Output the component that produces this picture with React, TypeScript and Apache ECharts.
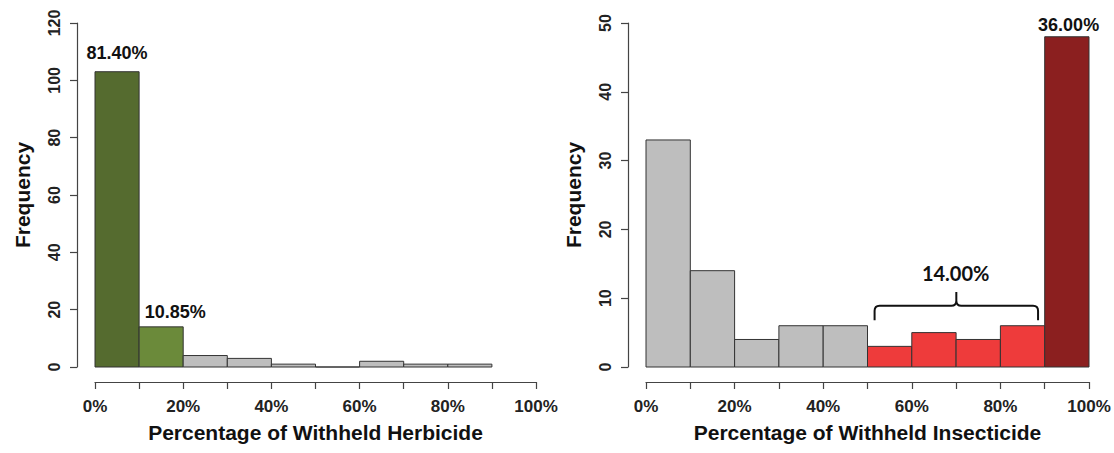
import React, { useEffect, useRef } from "react";
import * as echarts from "echarts";

// ---- Data ----
const binWidth = 10;
const leftBinStarts = [0, 10, 20, 30, 40, 50, 60, 70, 80];
const leftCounts = [103, 14, 4, 3, 1, 0, 2, 1, 1];
const leftColors = ["#556B2F", "#6B8A3A", "#BEBEBE", "#BEBEBE", "#BEBEBE", "#BEBEBE", "#BEBEBE", "#BEBEBE", "#BEBEBE"];

const rightBinStarts = [0, 10, 20, 30, 40, 50, 60, 70, 80, 90];
const rightCounts = [33, 14, 4, 6, 6, 3, 5, 4, 6, 48];
const rightColors = ["#BEBEBE", "#BEBEBE", "#BEBEBE", "#BEBEBE", "#BEBEBE", "#EE3B3B", "#EE3B3B", "#EE3B3B", "#EE3B3B", "#8B1F1F"];

const leftLabels: [number, number, string][] = [
  [5, 109.5, "81.40%"],
  [18.2, 19.2, "10.85%"],
];
const rightLabels: [number, number, string][] = [
  [95.4, 49.7, "36.00%"],
];
const braceLabel: [number, number, string][] = [[69.9, 13.7, "14.00%"]];
// brace: [x start, x end, y of bar line, y of ends, y of tip]
const braceData = [[51.6, 88.5, 8.9, 6.8, 10.9]];

const xTicks = [0, 20, 40, 60, 80, 100];

const FONT = "'Liberation Sans', Arial, sans-serif";

function histData(starts: number[], counts: number[]) {
  return starts.map((s, i) => [s, s + binWidth, counts[i]]);
}

function barSeries(idx: number, starts: number[], counts: number[], colors: string[]) {
  return {
    type: "custom",
    xAxisIndex: idx,
    yAxisIndex: idx,
    data: histData(starts, counts),
    encode: { x: [0, 1], y: 2 },
    renderItem: (params: any, api: any) => {
      const x0 = api.value(0);
      const x1 = api.value(1);
      const c = api.value(2);
      const p0 = api.coord([x0, 0]);
      const p1 = api.coord([x1, c]);
      return {
        type: "rect",
        shape: { x: p0[0], y: p1[1], width: p1[0] - p0[0], height: Math.max(p0[1] - p1[1], 0.01) },
        style: { fill: colors[params.dataIndex], stroke: "#333333", lineWidth: 1 },
      };
    },
    silent: true,
  };
}

function textSeries(idx: number, data: [number, number, string][], family: string, size: number) {
  return {
    type: "custom",
    xAxisIndex: idx,
    yAxisIndex: idx,
    data: data.map((d) => [d[0], d[1], d[2]]),
    renderItem: (params: any, api: any) => {
      const p = api.coord([api.value(0), api.value(1)]);
      return {
        type: "text",
        x: p[0],
        y: p[1],
        style: {
          text: data[params.dataIndex][2],
          fill: "#111111",
          font: `bold ${size}px ${family}`,
          align: "center",
          verticalAlign: "middle",
        },
      };
    },
    silent: true,
  };
}

function xAxis(idx: number, name: string) {
  return {
    type: "value",
    gridIndex: idx,
    min: 0,
    max: 100,
    interval: 10,
    offset: 15,
    name,
    nameLocation: "middle",
    nameGap: 40,
    nameTextStyle: { fontFamily: FONT, fontWeight: "bold", fontSize: 21, color: "#111111" },
    axisLine: { show: true, onZero: false, lineStyle: { color: "#444444", width: 1.2 } },
    axisTick: { show: true, length: 7, lineStyle: { color: "#444444", width: 1.2 } },
    axisLabel: {
      margin: 16,
      fontFamily: FONT,
      fontWeight: "bold",
      fontSize: 17,
      color: "#222222",
      formatter: (v: number) => (xTicks.indexOf(v) >= 0 ? v + "%" : ""),
    },
    splitLine: { show: false },
  };
}

function yAxis(idx: number, max: number, interval: number, nameGap: number) {
  return {
    type: "value",
    gridIndex: idx,
    min: 0,
    max,
    interval,
    offset: 18,
    name: "Frequency",
    nameLocation: "middle",
    nameRotate: 90,
    nameGap,
    nameTextStyle: { fontFamily: FONT, fontWeight: "bold", fontSize: 21, color: "#111111" },
    axisLine: { show: true, onZero: false, lineStyle: { color: "#444444", width: 1.2 } },
    axisTick: { show: true, length: 7, lineStyle: { color: "#444444", width: 1.2 } },
    axisLabel: {
      rotate: 90,
      margin: 15,
      fontFamily: FONT,
      fontWeight: "bold",
      fontSize: 16,
      color: "#222222",
    },
    splitLine: { show: false },
  };
}

export default function App() {
  const ref = useRef<HTMLDivElement>(null);
  useEffect(() => {
    if (!ref.current) return;
    const chart = echarts.init(ref.current, undefined, { renderer: "svg" });
    chart.setOption({
      animation: false,
      backgroundColor: "#ffffff",
      grid: [
        { left: 95, top: 23, width: 441, height: 344 },
        { left: 646, top: 23, width: 443, height: 344 },
      ],
      xAxis: [xAxis(0, "Percentage of Withheld Herbicide"), xAxis(1, "Percentage of Withheld Insecticide")],
      yAxis: [yAxis(0, 120, 20, 44), yAxis(1, 50, 10, 44)],
      series: [
        barSeries(0, leftBinStarts, leftCounts, leftColors),
        barSeries(1, rightBinStarts, rightCounts, rightColors),
        textSeries(0, leftLabels, FONT, 18),
        textSeries(1, rightLabels, FONT, 18),
        textSeries(1, braceLabel, "Lato, 'Open Sans', sans-serif", 20),
        {
          type: "custom",
          xAxisIndex: 1,
          yAxisIndex: 1,
          data: braceData,
          silent: true,
          renderItem: (params: any, api: any) => {
            const a = api.coord([api.value(0), api.value(2)]);
            const b = api.coord([api.value(1), api.value(2)]);
            const e = api.coord([api.value(0), api.value(3)]);
            const t = api.coord([(api.value(0) + api.value(1)) / 2, api.value(4)]);
            const x0 = a[0], x1 = b[0], yM = a[1], yE = e[1], xc = t[0], yT = t[1];
            const r = 5;
            const d =
              `M${x0},${yE} L${x0},${yM + r} Q${x0},${yM} ${x0 + r},${yM} L${xc - r},${yM} Q${xc},${yM} ${xc},${yM - r} L${xc},${yT} ` +
              `M${x1},${yE} L${x1},${yM + r} Q${x1},${yM} ${x1 - r},${yM} L${xc + r},${yM} Q${xc},${yM} ${xc},${yM - r}`;
            return {
              type: "path",
              shape: { pathData: d },
              style: { stroke: "#111111", lineWidth: 2, fill: "none" },
            };
          },
        },
      ],
    });
    return () => chart.dispose();
  }, []);
  return (
    <div
      ref={ref}
      style={{ position: "fixed", left: 0, top: 0, width: 1114, height: 453, background: "#fff" }}
    />
  );
}
